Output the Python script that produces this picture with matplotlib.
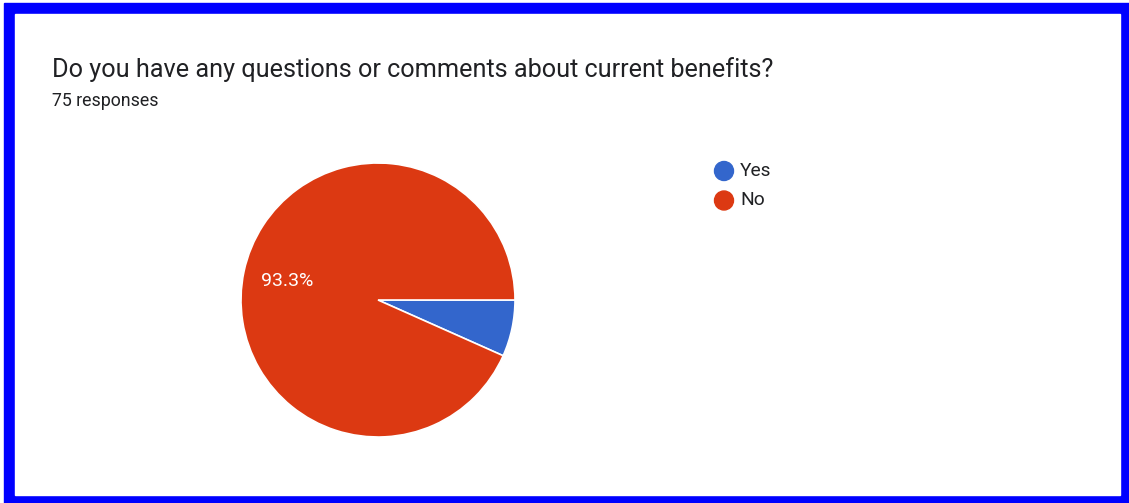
import matplotlib
matplotlib.use("Agg")
import matplotlib.pyplot as plt
from matplotlib.patches import Rectangle, Ellipse

plt.rcParams["font.family"] = ["Roboto", "DejaVu Sans"]

labels = ["Yes", "No"]
counts = [5, 70]
colors = ["#3366cc", "#dc3912"]
title = "Do you have any questions or comments about current benefits?"
subtitle = "75 responses"

W, H = 1129, 503
fig = plt.figure(figsize=(W / 100, H / 100), dpi=100)

def px(x, y, w, h):
    # pixel box (top-left origin) -> figure fraction
    return [x / W, 1 - (y + h) / H, w / W, h / H]

# blue frame
fig.patches.append(Rectangle((4 / W, 0), 1 - 4 / W, 1 - 3 / H,
                             transform=fig.transFigure, color="#0000ff", zorder=0))
fig.patches.append(Rectangle((15 / W, 1 - 495 / H), 1105 / W, 481 / H,
                             transform=fig.transFigure, color="white", zorder=1))

fig.text(52 / W, 1 - 70 / H, title, fontsize=18.2, color="#202124", va="center", ha="left")
fig.text(52 / W, 1 - 101 / H, subtitle, fontsize=12.8, color="#202124", va="center", ha="left")

r = 137
ax = fig.add_axes(px(378 - r, 300 - r, 2 * r, 2 * r))
ax.set_zorder(2)

def fmt(p):
    return f"{p:.1f}%" if p > 10 else ""

wedges, _, autotexts = ax.pie(counts, colors=colors, startangle=0, counterclock=False,
                              autopct=fmt, pctdistance=0.68,
                              wedgeprops=dict(edgecolor="white", linewidth=1.2),
                              textprops=dict(color="white", fontsize=14))
ax.set_xlim(-1.0, 1.0)
ax.set_ylim(-1.0, 1.0)
ax.set_aspect("equal")
ax.axis("off")

# legend: filled circles + labels
for i, (lab, c) in enumerate(zip(labels, colors)):
    y = 171 + 29.5 * i
    fig.patches.append(Ellipse((724 / W, 1 - y / H), 19 / W, 19 / H,
                               transform=fig.transFigure, color=c, zorder=3))
    fig.text(740 / W, 1 - y / H, lab, fontsize=13.8, color="#202124",
             va="center", ha="left", zorder=4)

fig.savefig("out.png", dpi=100)
